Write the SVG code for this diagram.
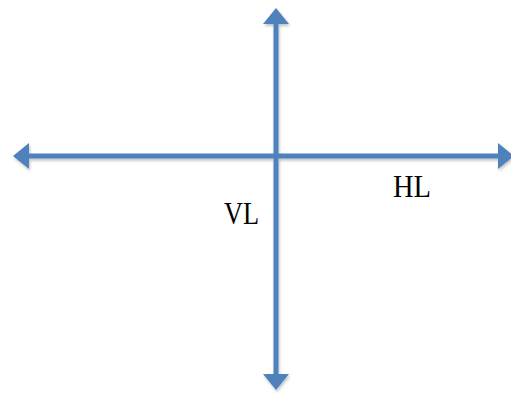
<svg xmlns="http://www.w3.org/2000/svg" width="511" height="394" viewBox="0 0 511 394">
<style>
.ln{stroke:#4F81BD;stroke-width:5;fill:none}
.ah{fill:#4F81BD}
.t{font-family:"Liberation Serif","DejaVu Serif",serif;font-size:31px;fill:#000}
</style>
<defs>
<filter id="sh" x="-10%" y="-10%" width="120%" height="120%">
<feGaussianBlur in="SourceAlpha" stdDeviation="1.5"/>
<feOffset dx="1" dy="2" result="b"/>
<feComponentTransfer><feFuncA type="linear" slope="0.25"/></feComponentTransfer>
<feMerge><feMergeNode/><feMergeNode in="SourceGraphic"/></feMerge>
</filter>
</defs>
<g id="connectors" filter="url(#sh)">
<g id="horizontal">
<line class="ln" x1="26" y1="156" x2="500" y2="156"/>
<polygon class="ah" points="13,156 29,143 29,169"/>
<polygon class="ah" points="514,156 498,143 498,169"/>
</g>
<g id="vertical">
<line class="ln" x1="276" y1="21" x2="276" y2="376"/>
<polygon class="ah" points="276,8 263,24 289,24"/>
<polygon class="ah" points="276,390 263,374 289,374"/>
</g>
</g>
<g id="label-VL"><text class="t" x="224" y="224" textLength="35" lengthAdjust="spacingAndGlyphs">VL</text></g>
<g id="label-HL"><text class="t" x="393" y="197" textLength="38" lengthAdjust="spacingAndGlyphs">HL</text></g>
</svg>
